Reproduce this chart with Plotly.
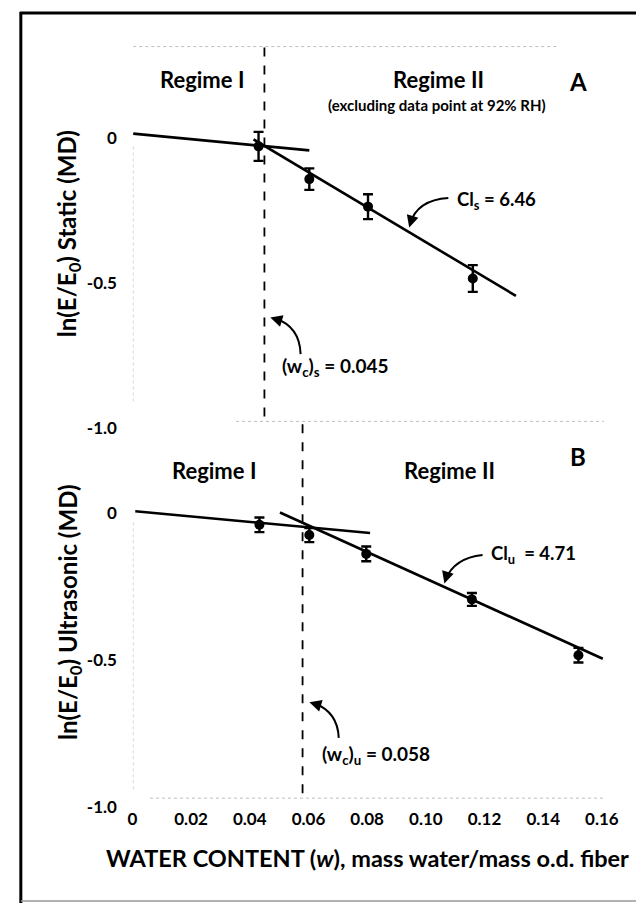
import plotly.graph_objects as go

# ---------------- data ----------------
# Panel A: static
w_A = [0.043, 0.0603, 0.0803, 0.116]
lnE_A = [-0.027, -0.140, -0.235, -0.483]
err_A = [0.050, 0.037, 0.043, 0.046]
fitI_A_w = [0.0003, 0.0603]
fitI_A_y = [0.017, -0.041]
fitII_A_w = [0.0413, 0.1307]
fitII_A_y = [-0.003, -0.543]
wc_A = 0.045

# Panel B: ultrasonic
w_B = [0.0433, 0.0603, 0.0797, 0.1157, 0.152]
lnE_B = [-0.039, -0.074, -0.138, -0.293, -0.483]
err_B = [0.025, 0.024, 0.025, 0.022, 0.025]
fitI_B_w = [0.001, 0.081]
fitI_B_y = [0.007, -0.067]
fitII_B_w = [0.0503, 0.1603]
fitII_B_y = [0.003, -0.495]
wc_B = 0.058

x_ticks = [0, 0.02, 0.04, 0.06, 0.08, 0.10, 0.12, 0.14, 0.16]
x_ticktext = ["0", "0.02", "0.04", "0.06", "0.08", "0.10", "0.12", "0.14", "0.16"]
y_ticks = [0, -0.5, -1.0]
y_ticktext = ["0", "-0.5", "-1.0"]

# ---------------- layout helpers ----------------
W, H = 644, 905
FONT = "Lato"


def px(x):
    return x / W


def py(y):
    return 1 - y / H


fig = go.Figure()

line_style = dict(color="black", width=2.6)
marker_style = dict(color="black", size=10, symbol="circle")


def add_panel(xa, ya, w, y, e, fIw, fIy, fIIw, fIIy):
    fig.add_trace(go.Scatter(x=fIw, y=fIy, mode="lines", line=line_style,
                             xaxis=xa, yaxis=ya, showlegend=False, hoverinfo="skip"))
    fig.add_trace(go.Scatter(x=fIIw, y=fIIy, mode="lines", line=line_style,
                             xaxis=xa, yaxis=ya, showlegend=False, hoverinfo="skip"))
    fig.add_trace(go.Scatter(x=w, y=y, mode="markers", marker=marker_style,
                             error_y=dict(type="data", array=e, visible=True,
                                          color="black", thickness=2.4, width=5),
                             xaxis=xa, yaxis=ya, showlegend=False))


add_panel("x", "y", w_A, lnE_A, err_A, fitI_A_w, fitI_A_y, fitII_A_w, fitII_A_y)
add_panel("x2", "y2", w_B, lnE_B, err_B, fitI_B_w, fitI_B_y, fitII_B_w, fitII_B_y)

# axis geometry (pixel based)
x0_px, x1_px = 122, 610
xrange = [0, (x1_px - x0_px) / 3000]
yA_top_px, yA_bot_px, yA_zero = 39, 425, 132
yA_scale = 293
yB_top_px, yB_bot_px, yB_zero = 420, 808, 511
yB_scale = 297

tickfont = dict(family=FONT, size=17, color="black", weight="bold")

common_x = dict(range=xrange, showgrid=False, zeroline=False, showline=False,
                domain=[px(x0_px), px(x1_px)], fixedrange=True)
fig.update_layout(
    xaxis=dict(**common_x, anchor="y", showticklabels=False, ticks=""),
    xaxis2=dict(**common_x, anchor="y2", tickvals=x_ticks, ticktext=x_ticktext,
                tickfont=tickfont, ticks=""),
    yaxis=dict(range=[(yA_zero - yA_bot_px) / yA_scale, (yA_zero - yA_top_px) / yA_scale],
               domain=[py(yA_bot_px), py(yA_top_px)], anchor="x",
               tickvals=y_ticks, ticktext=y_ticktext, tickfont=tickfont,
               showgrid=False, zeroline=False, showline=False,
               ticks="outside", ticklen=11, tickcolor="rgba(0,0,0,0)"),
    yaxis2=dict(range=[(yB_zero - yB_bot_px) / yB_scale, (yB_zero - yB_top_px) / yB_scale],
                domain=[py(yB_bot_px), py(yB_top_px)], anchor="x2",
                tickvals=y_ticks, ticktext=y_ticktext, tickfont=tickfont,
                showgrid=False, zeroline=False, showline=False,
                ticks="outside", ticklen=11, tickcolor="rgba(0,0,0,0)"),
    width=W, height=H,
    margin=dict(l=0, r=0, t=0, b=0),
    paper_bgcolor="white", plot_bgcolor="white",
    showlegend=False,
)

shapes = []
# frame
shapes.append(dict(type="line", xref="paper", yref="paper", x0=px(8), x1=px(8),
                   y0=py(4), y1=py(905), line=dict(color="black", width=3)))
shapes.append(dict(type="line", xref="paper", yref="paper", x0=px(7), x1=px(644),
                   y0=py(5), y1=py(5), line=dict(color="black", width=3)))
shapes.append(dict(type="line", xref="paper", yref="paper", x0=px(8), x1=px(644),
                   y0=py(903), y1=py(903), line=dict(color="#999", width=1.5)))
# faint dotted panel boundaries
faint = dict(color="#bdbdbd", width=1, dash="dot")
shapes.append(dict(type="line", xref="paper", yref="paper", x0=px(123), x1=px(558),
                   y0=py(39), y1=py(39), line=faint))
shapes.append(dict(type="line", xref="paper", yref="paper", x0=px(228), x1=px(604),
                   y0=py(418), y1=py(418), line=faint))
shapes.append(dict(type="line", xref="paper", yref="paper", x0=px(140), x1=px(604),
                   y0=py(799), y1=py(799), line=faint))
shapes.append(dict(type="line", xref="paper", yref="paper", x0=px(123), x1=px(123),
                   y0=py(140), y1=py(400), line=dict(color="#d8d8d8", width=1, dash="dot")))
shapes.append(dict(type="line", xref="paper", yref="paper", x0=px(123), x1=px(123),
                   y0=py(520), y1=py(790), line=dict(color="#d8d8d8", width=1, dash="dot")))
# critical water content dashed lines
shapes.append(dict(type="line", xref="x", yref="paper", x0=wc_A, x1=wc_A,
                   y0=py(40), y1=py(420), line=dict(color="black", width=1.8, dash="dash")))
shapes.append(dict(type="line", xref="x2", yref="paper", x0=wc_B, x1=wc_B,
                   y0=py(421), y1=py(800), line=dict(color="black", width=1.8, dash="dash")))


def curve(x0, y0, cx, cy, x1, y1):
    return dict(type="path", xref="paper", yref="paper",
                path=f"M {px(x0)},{py(y0)} Q {px(cx)},{py(cy)} {px(x1)},{py(y1)}",
                line=dict(color="black", width=2))


shapes.append(curve(445, 192, 413, 194, 406, 218))
shapes.append(curve(294, 350, 293, 322, 268, 314))
shapes.append(curve(480, 553, 451, 556, 442, 578))
shapes.append(curve(333, 738, 332, 712, 308, 703))
fig.update_layout(shapes=shapes)

ann = []


def text(x, y, s, size, xanchor="center", angle=0):
    ann.append(dict(x=px(x), y=py(y), xref="paper", yref="paper", text=s,
                    showarrow=False, xanchor=xanchor, yanchor="middle", textangle=angle,
                    font=dict(family=FONT, size=size, color="black", weight="bold")))


def head(x, y, dx, dy):
    ann.append(dict(x=px(x), y=py(y), xref="paper", yref="paper", text="",
                    showarrow=True, ax=dx, ay=dy, arrowhead=2, arrowsize=1.2,
                    arrowwidth=2, arrowcolor="black", standoff=0))


text(193, 72, "Regime I", 22)
text(435, 72, "Regime II", 22)
text(433, 98, "(excluding data point at 92% RH)", 15)
text(578, 74, "A", 24)
text(452, 195, "Cl<sub>s</sub> = 6.46", 18.5, xanchor="left")
text(273, 363, "(w<sub>c</sub>)<sub>s</sub> = 0.045", 19, xanchor="left")

text(578, 454, "B", 24)
text(205, 468, "Regime I", 22)
text(446, 468, "Regime II", 22)
text(487, 553, "Cl<sub>u</sub>  = 4.71", 18.5, xanchor="left")
text(314, 755, "(w<sub>c</sub>)<sub>u</sub> = 0.058", 19, xanchor="left")

text(57, 228, "ln(E/E<sub>0</sub>) Static (MD)", 24, angle=-90)
text(57, 611, "ln(E/E<sub>0</sub>) Ultrasonic (MD)", 24, angle=-90)
text(362, 860, "WATER CONTENT (<i>w</i>), mass water/mass o.d. fiber", 23.5)

head(405, 222, 3, -10)
head(263, 313, 10, 3)
head(441, 582, 3, -10)
head(303, 702, 10, 3)

fig.update_layout(annotations=ann)

fig.write_html("out.html")
